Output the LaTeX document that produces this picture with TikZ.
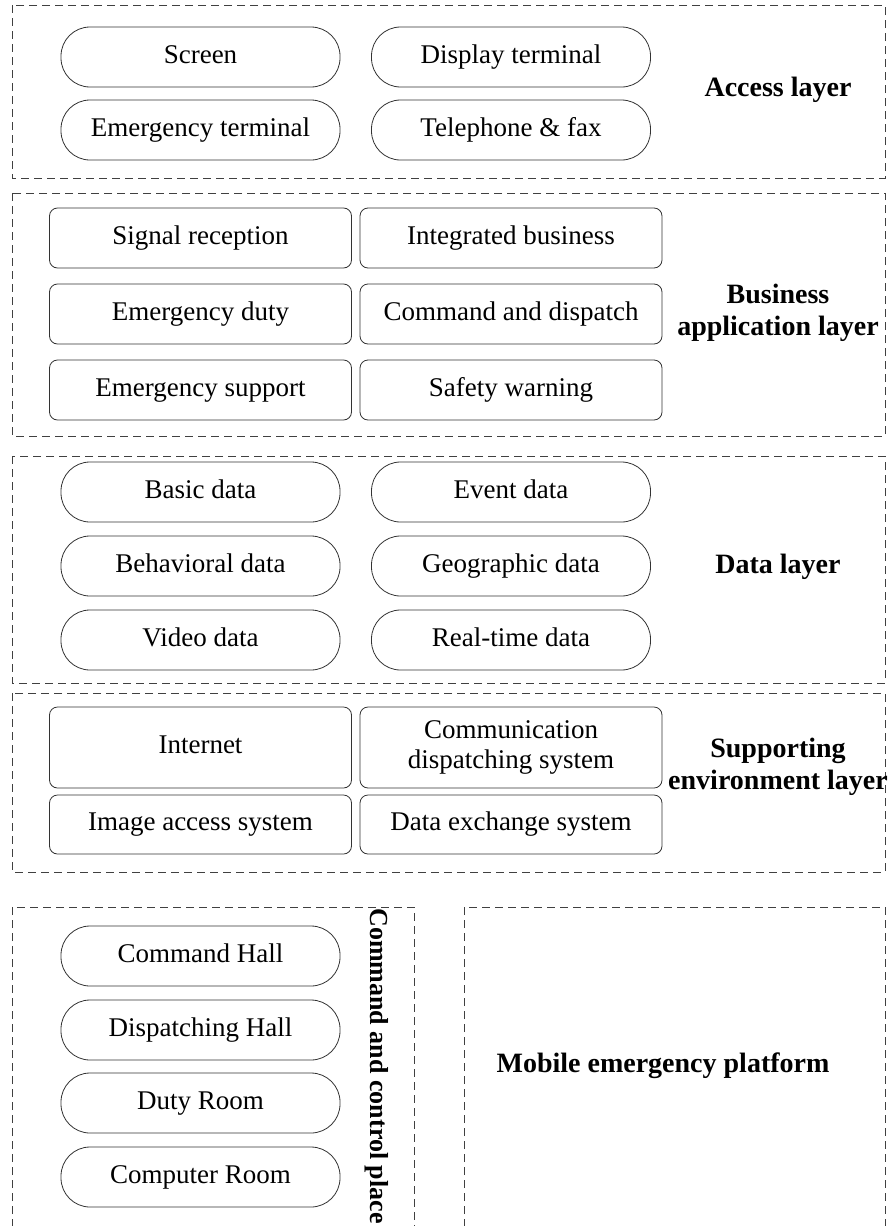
\documentclass[tikz,border=0pt]{standalone}
\usepackage{fontspec}
\setmainfont{Liberation Serif}
\begin{document}
\begin{tikzpicture}[x=1pt,y=-1pt,
  layerbox/.style={draw=black!75,line width=0.9pt,dash pattern=on 8pt off 5pt},
  pill/.style={draw=black!80,line width=0.8pt,rounded corners=29pt,minimum width=279pt,minimum height=60pt,inner sep=0pt,text height=18pt,text depth=6pt,font=\fontsize{27}{30}\selectfont},
  card/.style={draw=black!80,line width=0.8pt,rounded corners=8pt,minimum width=302pt,minimum height=60pt,inner sep=0pt,align=center,font=\fontsize{27}{30}\selectfont},
  cardline/.style={card,text height=18pt,text depth=6pt},
  layername/.style={align=center,font=\bfseries\fontsize{28}{32}\selectfont}]
\useasboundingbox (0,0) rectangle (887,1226);

% layer frames
\draw[layerbox] (12,5) rectangle (885,178);
\draw[layerbox] (12,193) rectangle (885,436);
\draw[layerbox] (12,456) rectangle (885,683);
\draw[layerbox] (12,693) rectangle (885,872);
\draw[layerbox] (12,1240) -- (12,907) -- (414,907) -- (414,1240);
\draw[layerbox] (464,1240) -- (464,907) -- (885,907) -- (885,1240);

% access layer
\node[pill] (screen) at (200.5,57) {Screen};
\node[pill] (display) at (511,57) {Display terminal};
\node[pill] (emterm) at (200.5,130) {Emergency terminal};
\node[pill] (phone) at (511,130) {Telephone \& fax};
\node[layername] (access) at (778,90) {Access layer};

% business application layer
\node[cardline] (signal) at (200.5,238) {Signal reception};
\node[cardline] (integ) at (511,238) {Integrated business};
\node[cardline] (duty) at (200.5,314) {Emergency duty};
\node[cardline] (command) at (511,314) {Command and dispatch};
\node[cardline] (support) at (200.5,390) {Emergency support};
\node[cardline] (safety) at (511,390) {Safety warning};
\node[layername] (business) at (778,313) {Business\\application layer};

% data layer
\node[pill] (basic) at (200.5,492) {Basic data};
\node[pill] (event) at (511,492) {Event data};
\node[pill] (behav) at (200.5,566) {Behavioral data};
\node[pill] (geo) at (511,566) {Geographic data};
\node[pill] (video) at (200.5,640) {Video data};
\node[pill] (realtime) at (511,640) {Real-time data};
\node[layername] (data) at (778,567) {Data layer};

% supporting environment layer
\node[cardline,minimum height=81pt] (internet) at (200.5,747.5) {Internet};
\node[card,minimum height=81pt] (commsys) at (511,747.5) {Communication\\dispatching system};
\node[cardline,minimum height=59pt] (image) at (200.5,824.5) {Image access system};
\node[cardline,minimum height=59pt] (exchange) at (511,824.5) {Data exchange system};
\node[layername] (supporting) at (778,767) {Supporting\\environment layer};

% command and control place
\node[pill] (hall) at (200.5,956) {Command Hall};
\node[pill] (disp) at (200.5,1030) {Dispatching Hall};
\node[pill] (dutyroom) at (200.5,1103) {Duty Room};
\node[pill] (computer) at (200.5,1177) {Computer Room};
\node[layername,rotate=-90,font=\bfseries\fontsize{26}{30}\selectfont] (place) at (377,1066) {Command and control place};

% mobile emergency platform
\node[layername] (mobile) at (663,1066) {Mobile emergency platform};
\end{tikzpicture}
\end{document}
